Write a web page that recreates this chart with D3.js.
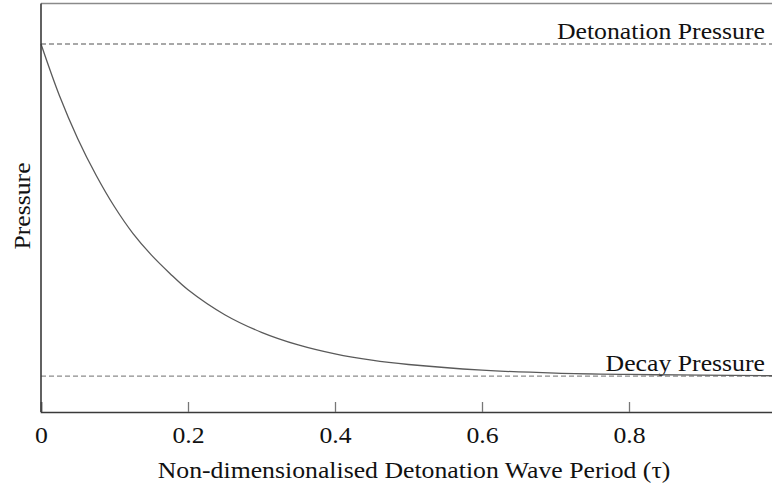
<!DOCTYPE html>
<html>
<head>
<meta charset="utf-8">
<script src="https://cdn.jsdelivr.net/npm/d3@7"></script>
<style>
  html, body { margin: 0; padding: 0; background: #fff; }
  svg { display: block; }
</style>
</head>
<body>
<div id="chart"></div>
<script>
'use strict';

// normalised pressure (0 = decay, 1 = detonation)
var tau = [0, 0.025, 0.05, 0.075, 0.1, 0.125, 0.15, 0.175, 0.2, 0.25, 0.3, 0.35, 0.4, 0.45, 0.5, 0.6, 0.7, 0.8, 0.9, 1.0];
var pressure = [1.00, 0.845, 0.715, 0.605, 0.51, 0.43, 0.365, 0.31, 0.26, 0.185, 0.132, 0.094, 0.067, 0.048, 0.035, 0.018, 0.009, 0.005, 0.003, 0.001];
var refLevels = [1, 0];
var refLabels = ['Detonation Pressure', 'Decay Pressure'];
var xTicks = [0, 0.2, 0.4, 0.6, 0.8];

var width = 772;
var height = 488;
var stretch = 1.12;   // reference serif text runs a bit wider than Times metrics
var serif = 'Tinos, "Liberation Serif", "Noto Serif", "DejaVu Serif", FreeSerif, "Nimbus Roman", "Nimbus Roman No9 L", Georgia, serif';

var svg = d3.select('#chart')
  .append('svg')
  .attr('width', width)
  .attr('height', height)
  .style('font-family', serif);

var x = d3.scaleLinear().domain([0, 1]).range([41, 776]);
var y = d3.scaleLinear().domain([-0.108, 1.122]).range([412, 3.5]);

var data = tau.map(function(t, i) { return { t: t, p: pressure[i] }; });

// top frame line
svg.append('line')
  .attr('x1', x(0)).attr('x2', width)
  .attr('y1', y.range()[1]).attr('y2', y.range()[1])
  .attr('stroke', '#8a8a8a')
  .attr('stroke-width', 1.6);

// reference levels
svg.selectAll('.ref')
  .data(refLevels)
  .enter()
  .append('line')
  .attr('class', 'ref')
  .attr('x1', x(0)).attr('x2', width)
  .attr('y1', function(d) { return y(d); })
  .attr('y2', function(d) { return y(d); })
  .attr('stroke', '#8c8c8c')
  .attr('stroke-width', 1.3)
  .attr('stroke-dasharray', '5,3');

svg.selectAll('.reflabel')
  .data(refLevels)
  .enter()
  .append('text')
  .attr('class', 'reflabel')
  .attr('transform', function(d) { return 'translate(765,' + (y(d) - 5) + ') scale(' + stretch + ',1)'; })
  .attr('text-anchor', 'end')
  .style('font-family', serif)
  .attr('font-size', 23)
  .attr('fill', '#111')
  .text(function(d, i) { return refLabels[i]; });

// decay curve
var line = d3.line()
  .x(function(d) { return x(d.t); })
  .y(function(d) { return y(d.p); })
  .curve(d3.curveCatmullRom);

svg.append('path')
  .datum(data)
  .attr('d', line)
  .attr('fill', 'none')
  .attr('stroke', '#5a5a5a')
  .attr('stroke-width', 1.3);

// axes
var xAxis = svg.append('g')
  .attr('transform', 'translate(0,' + y(-0.108) + ')')
  .call(d3.axisBottom(x).tickValues(xTicks).tickSize(-10).tickFormat(function(d) { return d === 0 ? '0' : d3.format('.1f')(d); }));
xAxis.attr('font-family', null).attr('font-size', null);
xAxis.select('.domain').attr('stroke', '#3a3a3a').attr('stroke-width', 1.6);
xAxis.selectAll('.tick line').attr('stroke', '#777').attr('stroke-width', 1.3);
xAxis.selectAll('.tick text')
  .attr('y', 0)
  .attr('dy', 0)
  .attr('transform', 'translate(0,31) scale(' + stretch + ',1)')
  .attr('font-size', 23)
  .style('font-family', serif)
  .attr('fill', '#111');

svg.append('line')
  .attr('x1', x(0)).attr('x2', x(0))
  .attr('y1', y.range()[1]).attr('y2', y.range()[0])
  .attr('stroke', '#3a3a3a')
  .attr('stroke-width', 1.6);

// titles
svg.append('text')
  .attr('transform', 'translate(414,478) scale(' + stretch + ',1)')
  .attr('text-anchor', 'middle')
  .style('font-family', serif)
  .attr('font-size', 23)
  .attr('fill', '#111')
  .text('Non-dimensionalised Detonation Wave Period (\u03c4)');

svg.append('text')
  .attr('transform', 'translate(30,206) rotate(-90) scale(' + stretch + ',1)')
  .attr('text-anchor', 'middle')
  .style('font-family', serif)
  .attr('font-size', 23)
  .attr('fill', '#111')
  .text('Pressure');
</script>
</body>
</html>
